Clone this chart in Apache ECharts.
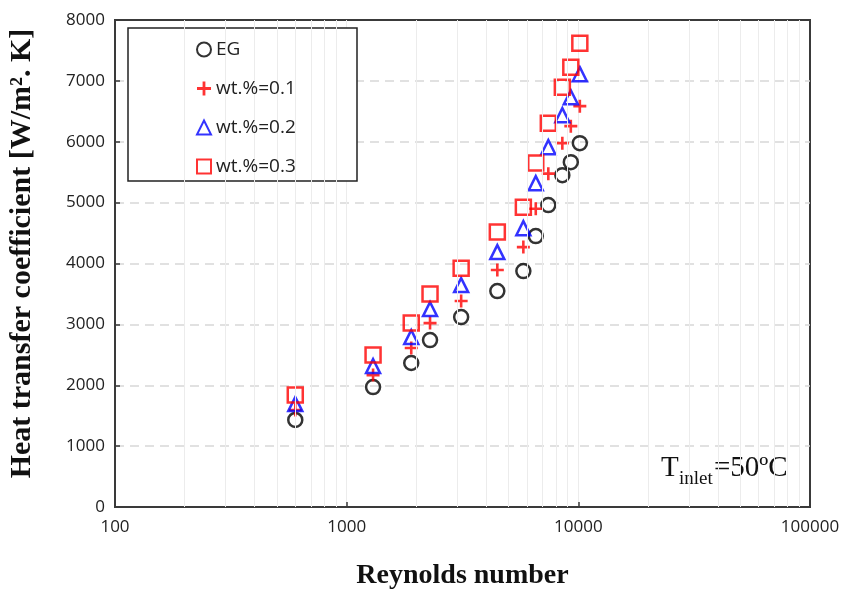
<!DOCTYPE html>
<html>
<head>
<meta charset="utf-8">
<script src="https://cdn.jsdelivr.net/npm/echarts@6/dist/echarts.min.js"></script>
<style>html,body{margin:0;padding:0;background:#fff;}#c{width:859px;height:590px;}</style>
</head>
<body>
<div id="c"></div>
<script>
const seriesNames = ['EG', 'wt.%=0.1', 'wt.%=0.2', 'wt.%=0.3'];
const reynolds = [600, 1300, 1900, 2290, 3120, 4470, 5790, 6550, 7420, 8530, 9280, 10150];
const hEG  = [1430, 1970, 2365, 2742, 3120, 3547, 3875, 4450, 4959, 5451, 5665, 5977];
const hW01 = [1593, 2167, 2611, 3021, 3383, 3892, 4269, 4900, 5476, 5977, 6256, 6585];
const hW02 = [1690, 2315, 2791, 3251, 3645, 4187, 4581, 5320, 5911, 6437, 6732, 7110];
const hW03 = [1839, 2496, 3021, 3498, 3924, 4516, 4926, 5649, 6305, 6897, 7225, 7619];
const minorGridX = [200,300,400,500,600,700,800,900,2000,3000,4000,5000,6000,7000,8000,9000,20000,30000,40000,50000,60000,70000,80000,90000];

const pair = (ys) => reynolds.map((x, i) => [x, ys[i]]);
const plusPath = 'path://M4,0H6V4H10V6H6V10H4V6H0V4H4Z';

const chart = echarts.init(document.getElementById('c'), null, {renderer: 'canvas'});
const labelFont = {fontFamily: 'Open Sans', fontSize: 17, color: '#222', formatter: (v) => String(v)};
const hollow = (c) => ({color: 'rgba(255,255,255,0)', borderColor: c, borderWidth: 2.5});
const serif = 'Liberation Serif';

chart.setOption({
  animation: false,
  backgroundColor: '#fff',
  grid: {left: 115, top: 20, right: 49, bottom: 83, outerBoundsMode: 'none', containLabel: false,
    show: true, borderColor: '#3a3a3a', borderWidth: 2, backgroundColor: 'rgba(0,0,0,0)'},
  xAxis: {
    type: 'log', logBase: 10, min: 100, max: 100000,
    name: 'Reynolds number', nameLocation: 'middle', nameGap: 55,
    nameTextStyle: {fontFamily: serif, fontWeight: 'bold', fontSize: 28, color: '#111'},
    axisLine: {show: true, lineStyle: {color: '#3a3a3a', width: 2}},
    axisTick: {show: true, inside: true, length: 5, lineStyle: {color: '#3a3a3a', width: 1.5}},
    axisLabel: Object.assign({margin: 12}, labelFont),
    splitLine: {show: true, showMinLine: false, showMaxLine: false, lineStyle: {color: '#ececec', width: 1}},
    minorTick: {show: false}
  },
  yAxis: {
    type: 'value', min: 0, max: 8000, interval: 1000,
    name: 'Heat transfer coefficient [W/m². K]', nameLocation: 'middle', nameGap: 78,
    nameTextStyle: {fontFamily: serif, fontWeight: 'bold', fontSize: 30, color: '#111', padding: [0, 0, 0, 20]},
    axisLine: {show: true, lineStyle: {color: '#3a3a3a', width: 2}},
    axisTick: {show: true, inside: true, length: 5, lineStyle: {color: '#3a3a3a', width: 1.5}},
    axisLabel: Object.assign({margin: 10}, labelFont),
    splitLine: {show: true, showMinLine: false, showMaxLine: false, lineStyle: {color: '#d8d8d8', width: 1.5, type: [9, 6]}}
  },
  legend: {
    orient: 'vertical', left: 191, top: 35, z: 10,
    itemWidth: 14, itemHeight: 14, itemGap: 20,
    textStyle: {fontFamily: 'Open Sans', fontSize: 19, color: '#222'},
    data: seriesNames
  },
  graphic: [
    {type: 'rect', z: 5, shape: {x: 128, y: 28, width: 229, height: 153}, style: {fill: '#fff', stroke: '#222', lineWidth: 1.5}},
    {type: 'text', z: 5, x: 661, y: 468, style: {text: 'T', font: '29px "Liberation Serif"', fill: '#111', verticalAlign: 'middle'}},
    {type: 'text', z: 5, x: 679, y: 479, style: {text: 'inlet', font: '19px "Liberation Serif"', fill: '#111', verticalAlign: 'middle'}},
    {type: 'text', z: 5, x: 714, y: 468, style: {text: '=50ºC', font: '29px "Liberation Serif"', fill: '#111', verticalAlign: 'middle'}}
  ],
  series: [
    {name: 'EG', type: 'scatter', symbol: 'circle', symbolSize: 14, itemStyle: hollow('#000'), data: pair(hEG), z: 3,
      markLine: {silent: true, symbol: 'none', label: {show: false}, animation: false,
        lineStyle: {color: '#ececec', width: 1, type: 'solid'},
        data: minorGridX.map(v => ({xAxis: v}))}},
    {name: 'wt.%=0.1', type: 'scatter', symbol: plusPath, symbolSize: 13, itemStyle: {color: '#ff0000'}, data: pair(hW01), z: 3},
    {name: 'wt.%=0.2', type: 'scatter', symbol: 'triangle', symbolSize: 14, itemStyle: hollow('#0000ff'), data: pair(hW02), z: 3},
    {name: 'wt.%=0.3', type: 'scatter', symbol: 'rect', symbolSize: 15, itemStyle: hollow('#ff0000'), data: pair(hW03), z: 3}
  ]
});
</script>
</body>
</html>
